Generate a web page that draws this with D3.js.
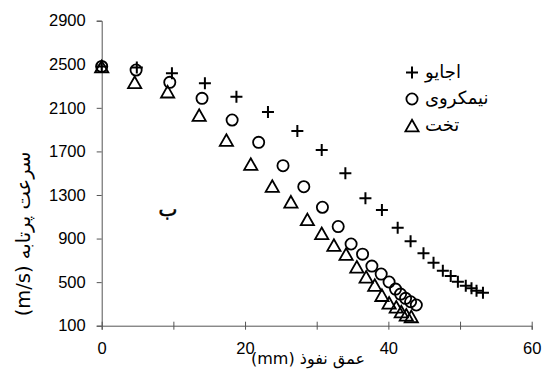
<!DOCTYPE html>
<html>
<head>
<meta charset="utf-8">
<script src="https://cdn.jsdelivr.net/npm/d3@7"></script>
<style>
  body { margin: 0; background: #fff; }
  svg { display: block; }
</style>
</head>
<body>
<div class="canvas"></div>
<script>
// data (depth mm, velocity m/s)
const ajayuX = [0, 4.9, 9.8, 14.4, 18.8, 23.2, 27.3, 30.7, 34.0, 36.8, 39.1, 41.3, 43.1, 44.9, 46.3, 47.6, 48.7, 49.7, 50.8, 51.6, 52.3, 53.2];
const ajayuY = [2480, 2470, 2417, 2325, 2202, 2062, 1888, 1713, 1500, 1270, 1162, 1000, 875, 764, 678, 604, 556, 503, 467, 443, 421, 402];

const hemiX = [0, 4.8, 9.5, 14.0, 18.2, 21.9, 25.3, 28.2, 30.8, 33.0, 34.8, 36.4, 37.7, 39.0, 40.1, 41.0, 41.7, 42.4, 43.1, 43.9];
const hemiY = [2480, 2447, 2334, 2187, 1988, 1783, 1569, 1376, 1187, 1010, 850, 757, 647, 574, 501, 436, 390, 351, 320, 290];

const flatX = [0, 4.6, 9.2, 13.6, 17.4, 20.8, 23.8, 26.4, 28.7, 30.7, 32.4, 34.1, 35.6, 36.9, 38.1, 39.1, 40.1, 41.1, 41.8, 42.5, 43.2];
const flatY = [2480, 2334, 2248, 2034, 1804, 1584, 1382, 1238, 1076, 948, 840, 758, 641, 549, 473, 380, 310, 274, 230, 200, 185];

const yTicks = [100, 500, 900, 1300, 1700, 2100, 2500, 2900];
const xTicks = [0, 10, 20, 30, 40, 50, 60];
const xLabels = [0, 20, 40, 60];

const legendNames = ['اجایو', 'نیمکروی', 'تخت'];
const yTitle = '(m/s) سرعت پرتابه';
const xTitle = '(mm) عمق نفوذ';
const panelLetter = 'ب';

const width = 550, height = 374;
const margin = {top: 20.7, right: 18.3, bottom: 48.3, left: 101.7};
const graphWidth = width - margin.left - margin.right;
const graphHeight = height - margin.top - margin.bottom;

const svg = d3.select('.canvas')
    .append('svg')
    .attr('width', width)
    .attr('height', height);

const graph = svg.append('g')
    .attr('transform', `translate(${margin.left}, ${margin.top})`);

// scales
const x = d3.scaleLinear().domain([0, 60]).range([0, graphWidth]);
const y = d3.scaleLinear().domain([100, 2900]).range([graphHeight, 0]);

const axisColor = '#555';
const numFont = '"Liberation Sans", Arial, sans-serif';
const faFont = '"DejaVu Sans", sans-serif';

// y axis
const yAxisGroup = graph.append('g').call(
    d3.axisLeft(y).tickValues(yTicks).tickSize(5).tickPadding(11).tickFormat(d3.format('d')));
yAxisGroup.select('.domain').attr('stroke', axisColor);
yAxisGroup.selectAll('line').attr('stroke', axisColor);
yAxisGroup.selectAll('text')
    .attr('font-family', numFont)
    .attr('font-size', 16.5)
    .attr('fill', '#000');

// x axis (ticks cross the line)
const xAxisGroup = graph.append('g')
    .attr('transform', `translate(0, ${graphHeight})`)
    .call(d3.axisBottom(x).tickValues(xTicks).tickSizeOuter(0).tickSize(4)
        .tickFormat(d => xLabels.includes(d) ? d : ''));
xAxisGroup.select('.domain').attr('stroke', axisColor);
xAxisGroup.selectAll('line').attr('stroke', axisColor).attr('y1', -4);
xAxisGroup.selectAll('text')
    .attr('font-family', numFont)
    .attr('font-size', 16.5)
    .attr('fill', '#000')
    .attr('y', 17);

// axis titles
svg.append('text')
    .attr('transform', `translate(30, 234) rotate(-90)`)
    .attr('text-anchor', 'middle')
    .attr('font-family', faFont)
    .attr('font-size', 19.5)
    .text(yTitle);

svg.append('text')
    .attr('x', 308)
    .attr('y', 364)
    .attr('text-anchor', 'middle')
    .attr('font-family', faFont)
    .attr('font-size', 16)
    .text(xTitle);

svg.append('text')
    .attr('x', 168)
    .attr('y', 216)
    .attr('text-anchor', 'middle')
    .attr('font-family', faFont)
    .attr('font-size', 20)
    .attr('stroke', '#000')
    .attr('stroke-width', 0.6)
    .text(panelLetter);

// marker shapes
const plusPath = 'M-6,0H6M0,-6V6';
const triPath = 'M0,-5.8L6.6,5.8H-6.6Z';

function drawSeries(xs, ys, kind) {
    const pts = xs.map((d, i) => ({xv: d, yv: ys[i]}));
    const g = graph.append('g');
    if (kind === 'circle') {
        g.selectAll('circle').data(pts).enter().append('circle')
            .attr('cx', d => x(d.xv))
            .attr('cy', d => y(d.yv))
            .attr('r', 5.6)
            .attr('fill', 'none')
            .attr('stroke', '#000')
            .attr('stroke-width', 1.8);
    } else {
        g.selectAll('path').data(pts).enter().append('path')
            .attr('transform', d => `translate(${x(d.xv)}, ${y(d.yv)})`)
            .attr('d', kind === 'plus' ? plusPath : triPath)
            .attr('fill', 'none')
            .attr('stroke', '#000')
            .attr('stroke-width', kind === 'plus' ? 2 : 1.8);
    }
}

drawSeries(flatX, flatY, 'tri');
drawSeries(hemiX, hemiY, 'circle');
drawSeries(ajayuX, ajayuY, 'plus');

// legend
const legend = svg.append('g').attr('transform', 'translate(412, 72.5)');
const kinds = ['plus', 'circle', 'tri'];
kinds.forEach((k, i) => {
    const row = legend.append('g').attr('transform', `translate(0, ${i * 26.5})`);
    if (k === 'circle') {
        row.append('circle').attr('r', 5.6).attr('fill', 'none')
            .attr('stroke', '#000').attr('stroke-width', 1.8);
    } else {
        row.append('path').attr('d', k === 'plus' ? plusPath : triPath)
            .attr('fill', 'none').attr('stroke', '#000')
            .attr('stroke-width', k === 'plus' ? 2 : 1.8);
    }
    row.append('text')
        .attr('x', 13)
        .attr('y', 5)
        .attr('font-family', faFont)
        .attr('font-size', 18)
        .text(legendNames[i]);
});
</script>
</body>
</html>
